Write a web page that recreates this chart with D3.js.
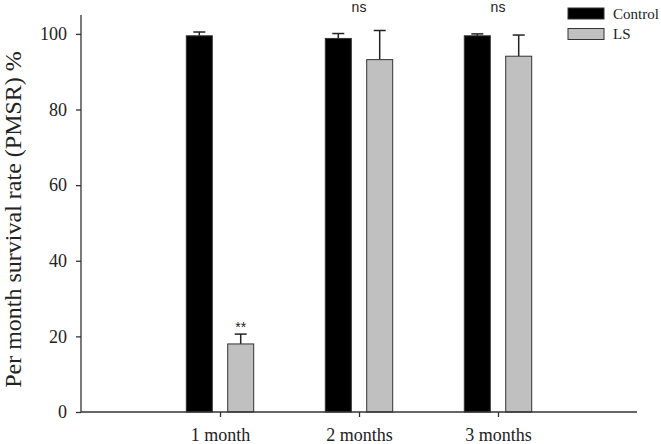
<!DOCTYPE html>
<html>
<head>
<meta charset="utf-8">
<script src="https://cdn.jsdelivr.net/npm/d3@7"></script>
<style>
  body { margin: 0; background: #fff; }
</style>
</head>
<body>
<div id="chart"></div>
<script>
const categories = ["1 month", "2 months", "3 months"];
const controlMean = [99.5, 98.8, 99.5];
const controlErr = [1.0, 1.3, 0.5];
const lsMean = [18.0, 93.2, 94.1];
const lsErr = [2.6, 7.7, 5.6];
const marks = ["**", "ns", "ns"];
const yTicks = [0, 20, 40, 60, 80, 100];

const width = 661, height = 444;
const margin = {left: 81, right: 24, top: 15, bottom: 32};

const svg = d3.select("#chart")
    .append("svg")
    .attr("width", width)
    .attr("height", height);

const x = d3.scaleLinear().domain([0, 4]).range([margin.left, width - margin.right]);
const y = d3.scaleLinear().domain([0, 105]).range([height - margin.bottom, margin.top]);

const barW = 26, off = 20.7;
const serif = "'Liberation Serif', 'Times New Roman', serif";
const sans = "'Liberation Sans', Arial, sans-serif";

const series = [
    {name: "Control", mean: controlMean, err: controlErr, fill: "#000000", dx: -off},
    {name: "LS", mean: lsMean, err: lsErr, fill: "#c0c0c0", dx: off}
];

// error bars (upper only), drawn before bars
series.forEach(s => {
    const g = svg.append("g").attr("stroke", "#222").attr("stroke-width", 1.5);
    categories.forEach((c, i) => {
        const cx = x(i + 1) + s.dx;
        g.append("line")
            .attr("x1", cx).attr("x2", cx)
            .attr("y1", y(s.mean[i])).attr("y2", y(s.mean[i] + s.err[i]));
        g.append("line")
            .attr("x1", cx - 6).attr("x2", cx + 6)
            .attr("y1", y(s.mean[i] + s.err[i])).attr("y2", y(s.mean[i] + s.err[i]));
    });
    svg.append("g").selectAll("rect")
        .data(s.mean)
        .join("rect")
        .attr("x", (d, i) => x(i + 1) + s.dx - barW / 2)
        .attr("y", d => y(d))
        .attr("width", barW)
        .attr("height", d => y(0) - y(d))
        .attr("fill", s.fill)
        .attr("stroke", "#333")
        .attr("stroke-width", 1);
});

// axes
const yAxis = svg.append("g")
    .attr("transform", `translate(${margin.left},0)`)
    .call(d3.axisLeft(y).tickValues(yTicks).tickSize(5).tickPadding(9));
yAxis.select(".domain").attr("d", `M0,${y(105)}V${y(0)}`);

const xAxis = svg.append("g")
    .attr("transform", `translate(0,${y(0)})`)
    .call(d3.axisBottom(x).tickValues([1, 2, 3]).tickFormat((d) => categories[d - 1]).tickSize(5).tickPadding(11));
xAxis.select(".domain").attr("d", `M${x(0)},0H${x(4)}`);

svg.selectAll(".tick text")
    .attr("font-family", serif)
    .attr("font-size", 18)
    .attr("fill", "#222");
svg.selectAll(".domain, .tick line").attr("stroke", "#333").attr("stroke-width", 1.3);

// y title
svg.append("text")
    .attr("transform", `translate(21,${(y(0) + y(105)) / 2 + 6}) rotate(-90)`)
    .attr("text-anchor", "middle")
    .attr("font-family", serif)
    .attr("font-size", 24)
    .attr("fill", "#222")
    .text("Per month survival rate (PMSR) %");

// significance marks
marks.forEach((m, i) => {
    const isStar = m === "**";
    svg.append("text")
        .attr("x", isStar ? x(i + 1) + off : x(i + 1))
        .attr("y", isStar ? y(lsMean[i] + lsErr[i]) - 2 : 12)
        .attr("text-anchor", "middle")
        .attr("font-family", sans)
        .attr("font-size", 14)
        .attr("fill", "#222")
        .text(m);
});

// legend
const legend = svg.append("g").attr("transform", "translate(568,8)");
series.forEach((s, i) => {
    legend.append("rect")
        .attr("x", 0).attr("y", i * 20.5)
        .attr("width", 36).attr("height", 11)
        .attr("fill", s.fill).attr("stroke", "#333");
    legend.append("text")
        .attr("x", 45).attr("y", i * 20.5 + 10.5)
        .attr("font-family", serif)
        .attr("font-size", 15)
        .attr("fill", "#222")
        .text(s.name);
});
</script>
</body>
</html>
